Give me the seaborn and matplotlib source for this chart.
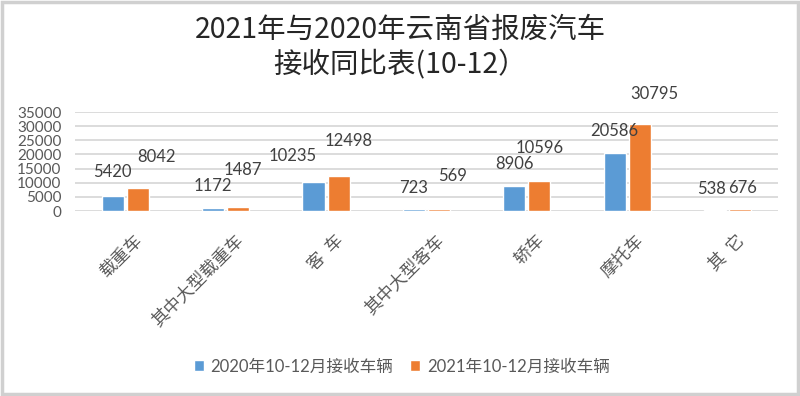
import pandas as pd
import matplotlib.pyplot as plt
import matplotlib.transforms as mtransforms
import seaborn as sns

# ---------- DATA ----------
categories = ["载重车", "其中大型载重车", "客  车", "其中大型客车", "轿车", "摩托车", "其  它"]
vals_2020 = [5420, 1172, 10235, 723, 8906, 20586, 538]
vals_2021 = [8042, 1487, 12498, 569, 10596, 30795, 676]
series = ["2020年10-12月接收车辆", "2021年10-12月接收车辆"]
yticks = [0, 5000, 10000, 15000, 20000, 25000, 30000, 35000]

# label offsets in pixels (Excel placed them a bit off the bars)
lab_dx = [[0, 0, -21, 0, 0, 0, -3], [19, 5, 10, 14, 0, 15, 3]]
lab_dy = [[24, 22, 26, 21, 22, 22, 21], [31, 37, 35, 33, 33, 30, 21]]

df = pd.DataFrame({
    "类别": categories * 2,
    "数量": vals_2020 + vals_2021,
    "系列": [series[0]] * len(categories) + [series[1]] * len(categories),
})

# ---------- STYLE ----------
sns.set_style("white")
plt.rcParams["font.family"] = ["Lato", "Noto Sans CJK SC", "DejaVu Sans"]
GRAY = "#595959"
colors = ["#5B9BD5", "#ED7D31"]

fig = plt.figure(figsize=(8, 3.96), dpi=100)
ax = fig.add_axes([0.094, 0.467, 0.878, 0.25])

sns.barplot(data=df, x="类别", y="数量", hue="系列", palette=colors,
            saturation=1, width=0.5, gap=0.12, ax=ax, legend=True)

ax.set_ylim(0, 35000)
ax.set_yticks(yticks)
ax.set_yticklabels([str(t) for t in yticks], fontsize=11, color=GRAY)
ax.yaxis.grid(True, color="#d9d9d9", linewidth=1.3)
ax.set_axisbelow(True)
for s in ax.spines.values():
    s.set_visible(False)
ax.tick_params(axis="y", length=0, pad=10)
ax.tick_params(axis="x", length=0, pad=0)
ax.set_xlabel("")
ax.set_ylabel("")
ax.set_xlim(-0.5, len(categories) - 0.5)

# rotated category labels
ax.set_xticks(range(len(categories)))
ax.set_xticklabels(categories, rotation=45, ha="right", va="top",
                   rotation_mode="anchor", fontsize=12.5, color=GRAY,
                   family=["Noto Sans CJK SC"], fontweight="light")
shift = mtransforms.ScaledTranslation(0.08, -0.2, fig.dpi_scale_trans)
for lbl in ax.get_xticklabels():
    lbl.set_transform(lbl.get_transform() + shift)

# data labels
for i, cont in enumerate(ax.containers):
    vals = [vals_2020, vals_2021][i]
    for j, (bar, v) in enumerate(zip(cont, vals)):
        ax.annotate(str(v), (bar.get_x() + bar.get_width() / 2, v),
                    xytext=(lab_dx[i][j], lab_dy[i][j]), textcoords="offset pixels",
                    ha="center", va="center", fontsize=12, color="#404040",
                    annotation_clip=False)

# legend at the bottom
leg = ax.legend(loc="center", bbox_to_anchor=(0.465, -1.57), ncol=2,
                frameon=False, fontsize=12, handlelength=0.6, handleheight=0.6,
                columnspacing=1.0, handletextpad=0.4)
for t in leg.get_texts():
    t.set_color(GRAY)

# title
fig.text(0.5, 0.925, "2021年与2020年云南省报废汽车", ha="center", va="center",
         fontsize=20.5, color="#262626", family=["Noto Sans CJK SC"], fontweight="medium")
fig.text(0.5, 0.835, "接收同比表(10-12）", ha="center", va="center",
         fontsize=20.5, color="#262626", family=["Noto Sans CJK SC"], fontweight="medium")

# outer frame
fig.patches.append(plt.Rectangle((0.002, 0.004), 0.996, 0.992, transform=fig.transFigure,
                                 fill=False, edgecolor="#d0d0d0", linewidth=2.5))

plt.savefig("out.png", dpi=100)
plt.close()
